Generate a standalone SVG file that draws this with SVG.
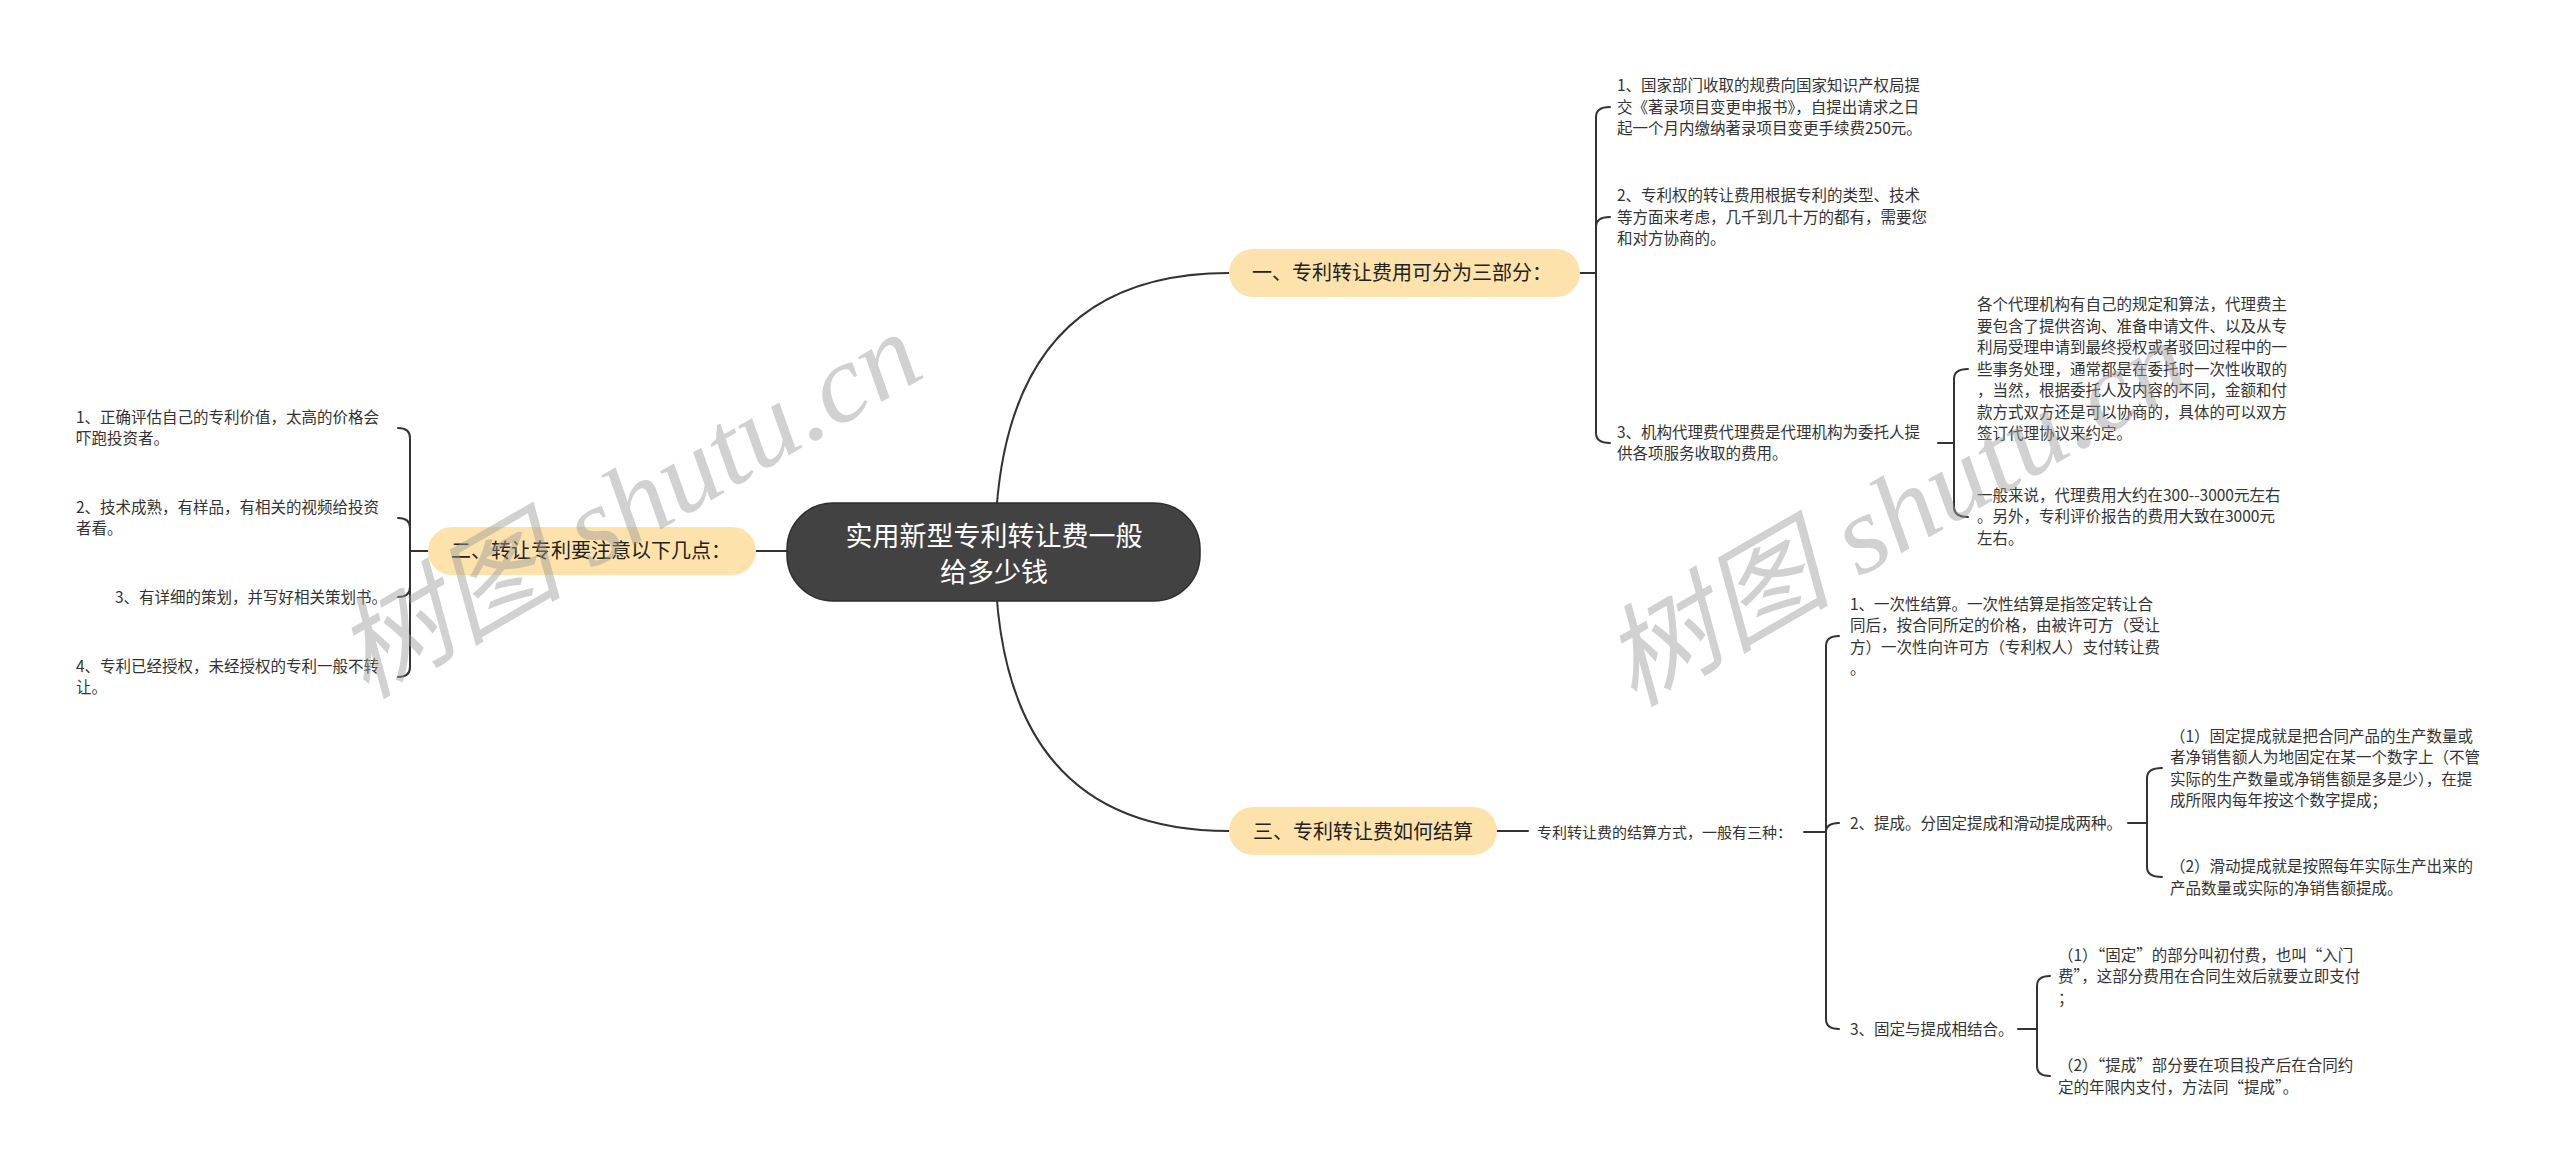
<svg xmlns="http://www.w3.org/2000/svg" width="2560" height="1173" viewBox="0 0 2560 1173">
<style>
.c{fill:none;stroke:#333;stroke-width:2;stroke-linecap:round}
.t{font-family:"Noto Sans CJK SC","Noto Sans",sans-serif;font-size:15.5px;fill:#333}
.b{fill:#fde3ab}
.bt{font-family:"Noto Sans CJK SC","Noto Sans",sans-serif;font-size:20px;fill:#222}
.rt{font-family:"Noto Sans CJK SC","Noto Sans",sans-serif;font-size:27px;fill:#fff;text-anchor:middle}
.wm{font-family:"Liberation Serif","Noto Sans CJK SC",serif;font-style:italic;font-size:110px;fill:#9a9a9a;opacity:0.45}
</style>
<rect width="2560" height="1173" fill="#fff"/>
<g id="connectors">
<path class="c" d="M995 552 Q995 273 1229 273"/>
<path class="c" d="M995 552 Q995 831 1229 831"/>
<path class="c" d="M756 551 H800"/>
<path class="c" d="M1580 273 H1596"/>
<path class="c" d="M1596 273 V117 Q1596 107 1610 107"/>
<path class="c" d="M1596 273 V227 Q1596 217 1610 217"/>
<path class="c" d="M1596 273 V433 Q1596 443 1610 443"/>
<path class="c" d="M1938 443 H1954"/>
<path class="c" d="M1954 443 V379 Q1954 369 1968 369"/>
<path class="c" d="M1954 443 V507 Q1954 517 1968 517"/>
<path class="c" d="M428 551 H410"/>
<path class="c" d="M410 551 V438 Q410 428 398 428"/>
<path class="c" d="M410 551 V528 Q410 518 398 518"/>
<path class="c" d="M410 551 V587 Q410 597 398 597"/>
<path class="c" d="M410 551 V667 Q410 677 398 677"/>
<path class="c" d="M1497 831 H1528"/>
<path class="c" d="M1804 832 H1826"/>
<path class="c" d="M1826 832 V646 Q1826 636 1839 636"/>
<path class="c" d="M1826 832 Q1826 823 1839 823"/>
<path class="c" d="M1826 832 V1019 Q1826 1029 1839 1029"/>
<path class="c" d="M2128 823 H2147"/>
<path class="c" d="M2147 823 V778 Q2147 768 2162 768"/>
<path class="c" d="M2147 823 V867 Q2147 877 2162 877"/>
<path class="c" d="M2018 1029 H2037"/>
<path class="c" d="M2037 1029 V986 Q2037 976 2050 976"/>
<path class="c" d="M2037 1029 V1066 Q2037 1076 2050 1076"/>
</g>
<g id="root">
<rect x="787" y="503" width="413" height="98" rx="46" fill="#424242" stroke="#2e2e2e" stroke-width="1.5"/>
<text class="rt"><tspan x="994" y="546">实用新型专利转让费一般</tspan><tspan x="994" y="582">给多少钱</tspan></text>
</g>
<g id="b1">
<rect class="b" x="1229" y="249" width="351" height="48" rx="24"/>
<text class="bt" x="1252" y="280">一、专利转让费用可分为三部分：</text>
</g>
<g id="b1-1">
<text class="t"><tspan x="1617" y="91">1、国家部门收取的规费向国家知识产权局提</tspan><tspan x="1617" y="112.5">交《著录项目变更申报书》，自提出请求之日</tspan><tspan x="1617" y="134">起一个月内缴纳著录项目变更手续费250元。</tspan></text>
</g>
<g id="b1-2">
<text class="t"><tspan x="1617" y="201">2、专利权的转让费用根据专利的类型、技术</tspan><tspan x="1617" y="222.5">等方面来考虑，几千到几十万的都有，需要您</tspan><tspan x="1617" y="244">和对方协商的。</tspan></text>
</g>
<g id="b1-3">
<text class="t"><tspan x="1617" y="437.5">3、机构代理费代理费是代理机构为委托人提</tspan><tspan x="1617" y="459">供各项服务收取的费用。</tspan></text>
</g>
<g id="b1-3-1">
<text class="t"><tspan x="1977" y="310">各个代理机构有自己的规定和算法，代理费主</tspan><tspan x="1977" y="331.5">要包含了提供咨询、准备申请文件、以及从专</tspan><tspan x="1977" y="353">利局受理申请到最终授权或者驳回过程中的一</tspan><tspan x="1977" y="374.5">些事务处理，通常都是在委托时一次性收取的</tspan><tspan x="1977" y="396">，当然，根据委托人及内容的不同，金额和付</tspan><tspan x="1977" y="417.5">款方式双方还是可以协商的，具体的可以双方</tspan><tspan x="1977" y="439">签订代理协议来约定。</tspan></text>
</g>
<g id="b1-3-2">
<text class="t"><tspan x="1977" y="500.5">一般来说，代理费用大约在300--3000元左右</tspan><tspan x="1977" y="522">。另外，专利评价报告的费用大致在3000元</tspan><tspan x="1977" y="543.5">左右。</tspan></text>
</g>
<g id="b2">
<rect class="b" x="428" y="527" width="328" height="48" rx="24"/>
<text class="bt" x="451" y="558">二、转让专利要注意以下几点：</text>
</g>
<g id="b2-1">
<text class="t"><tspan x="76" y="422.5">1、正确评估自己的专利价值，太高的价格会</tspan><tspan x="76" y="444">吓跑投资者。</tspan></text>
</g>
<g id="b2-2">
<text class="t"><tspan x="76" y="512.5">2、技术成熟，有样品，有相关的视频给投资</tspan><tspan x="76" y="534">者看。</tspan></text>
</g>
<g id="b2-3">
<text class="t" x="115" y="602.5">3、有详细的策划，并写好相关策划书。</text>
</g>
<g id="b2-4">
<text class="t"><tspan x="76" y="671.5">4、专利已经授权，未经授权的专利一般不转</tspan><tspan x="76" y="693">让。</tspan></text>
</g>
<g id="b3">
<rect class="b" x="1229" y="807" width="268" height="48" rx="24"/>
<text class="bt" x="1253" y="839">三、专利转让费如何结算</text>
</g>
<g id="b3-0">
<text class="t" style="font-size:15px" x="1537" y="838">专利转让费的结算方式，一般有三种：</text>
</g>
<g id="b3-1">
<text class="t"><tspan x="1850" y="609.5">1、一次性结算。一次性结算是指签定转让合</tspan><tspan x="1850" y="631">同后，按合同所定的价格，由被许可方（受让</tspan><tspan x="1850" y="652.5">方）一次性向许可方（专利权人）支付转让费</tspan><tspan x="1850" y="674">。</tspan></text>
</g>
<g id="b3-2">
<text class="t" x="1850" y="828.5">2、提成。分固定提成和滑动提成两种。</text>
</g>
<g id="b3-2-1">
<text class="t"><tspan x="2170" y="741.5">（1）固定提成就是把合同产品的生产数量或</tspan><tspan x="2170" y="763">者净销售额人为地固定在某一个数字上（不管</tspan><tspan x="2170" y="784.5">实际的生产数量或净销售额是多是少），在提</tspan><tspan x="2170" y="806">成所限内每年按这个数字提成；</tspan></text>
</g>
<g id="b3-2-2">
<text class="t"><tspan x="2170" y="872">（2）滑动提成就是按照每年实际生产出来的</tspan><tspan x="2170" y="893.5">产品数量或实际的净销售额提成。</tspan></text>
</g>
<g id="b3-3">
<text class="t" x="1850" y="1034.5">3、固定与提成相结合。</text>
</g>
<g id="b3-3-1">
<text class="t"><tspan x="2058" y="960.5">（1）“固定”的部分叫初付费，也叫“入门</tspan><tspan x="2058" y="982">费”，这部分费用在合同生效后就要立即支付</tspan><tspan x="2058" y="1003.5">；</tspan></text>
</g>
<g id="b3-3-2">
<text class="t"><tspan x="2058" y="1071">（2）“提成”部分要在项目投产后在合同约</tspan><tspan x="2058" y="1092.5">定的年限内支付，方法同“提成”。</tspan></text>
</g>
<g id="watermarks">
<text class="wm" x="365" y="700" textLength="650" lengthAdjust="spacingAndGlyphs" transform="rotate(-30 365 700)">树图 shutu.cn</text>
<text class="wm" x="1633" y="708" textLength="650" lengthAdjust="spacingAndGlyphs" transform="rotate(-30 1633 708)">树图 shutu.cn</text>
</g>
</svg>
